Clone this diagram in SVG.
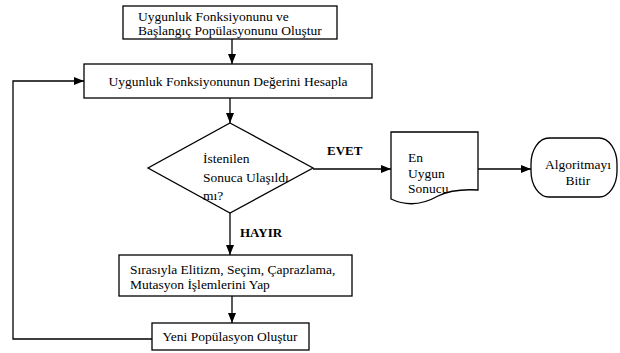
<svg xmlns="http://www.w3.org/2000/svg" width="620" height="353" viewBox="0 0 620 353">
<defs>
<marker id="ah" markerWidth="10" markerHeight="8" refX="10" refY="4" orient="auto" markerUnits="userSpaceOnUse">
<path d="M0,0 L10,4 L0,8 Z" fill="#000"/>
</marker>
<style>
.s{fill:#fff;stroke:#000;stroke-width:1.3}
text{font-family:'Liberation Serif','DejaVu Serif',serif;font-size:13.5px;fill:#000}
.b{font-weight:bold;font-size:13px}
.m{text-anchor:middle}
.c{fill:none;stroke:#000;stroke-width:1.3}
</style>
</defs>
<rect width="620" height="353" fill="#fff"/>
<g id="connectors">
<path class="c" d="M232,39 V64" marker-end="url(#ah)"/>
<path class="c" d="M230,98 V123" marker-end="url(#ah)"/>
<path class="c" d="M313,169 H391" marker-end="url(#ah)"/>
<path class="c" d="M478,169 H531" marker-end="url(#ah)"/>
<path class="c" d="M230,213 V255" marker-end="url(#ah)"/>
<path class="c" d="M232,296 V323" marker-end="url(#ah)"/>
<path class="c" d="M152,339 H13 V81 H84" marker-end="url(#ah)"/>
<text class="b" x="327" y="155">EVET</text>
<text class="b" x="240" y="237">HAYIR</text>
</g>
<g id="n1">
<rect class="s" x="123" y="6" width="214" height="33"/>
<text x="138" y="21">Uygunluk Fonksiyonunu ve</text>
<text x="138" y="35">Başlangıç Popülasyonunu Oluştur</text>
</g>
<g id="n2">
<rect class="s" x="84" y="64" width="288" height="34"/>
<text class="m" x="228" y="86">Uygunluk Fonksiyonunun Değerini Hesapla</text>
</g>
<g id="n3">
<path class="s" d="M230,123 L313,168 L230,213 L148,168 Z"/>
<text x="203" y="163">İstenilen</text>
<text x="203" y="182">Sonuca Ulaşıldı</text>
<text x="203" y="200">mı?</text>
</g>
<g id="n4">
<path class="s" d="M391,132 H478 V190 C462,189 450,190 438,196 C424,204 408,207 391,199 Z"/>
<text x="408" y="162">En</text>
<text x="408" y="178">Uygun</text>
<text x="408" y="193">Sonucu</text>
</g>
<g id="n5">
<rect class="s" x="531" y="138" width="86" height="59" rx="18" ry="26"/>
<text class="m" x="578" y="169">Algoritmayı</text>
<text class="m" x="578" y="185">Bitir</text>
</g>
<g id="n6">
<rect class="s" x="119" y="255" width="233" height="41"/>
<text x="130" y="274">Sırasıyla Elitizm, Seçim, Çaprazlama,</text>
<text x="130" y="289">Mutasyon İşlemlerini Yap</text>
</g>
<g id="n7">
<rect class="s" x="152" y="323" width="157" height="27"/>
<text class="m" x="230" y="341">Yeni Popülasyon Oluştur</text>
</g>
</svg>
